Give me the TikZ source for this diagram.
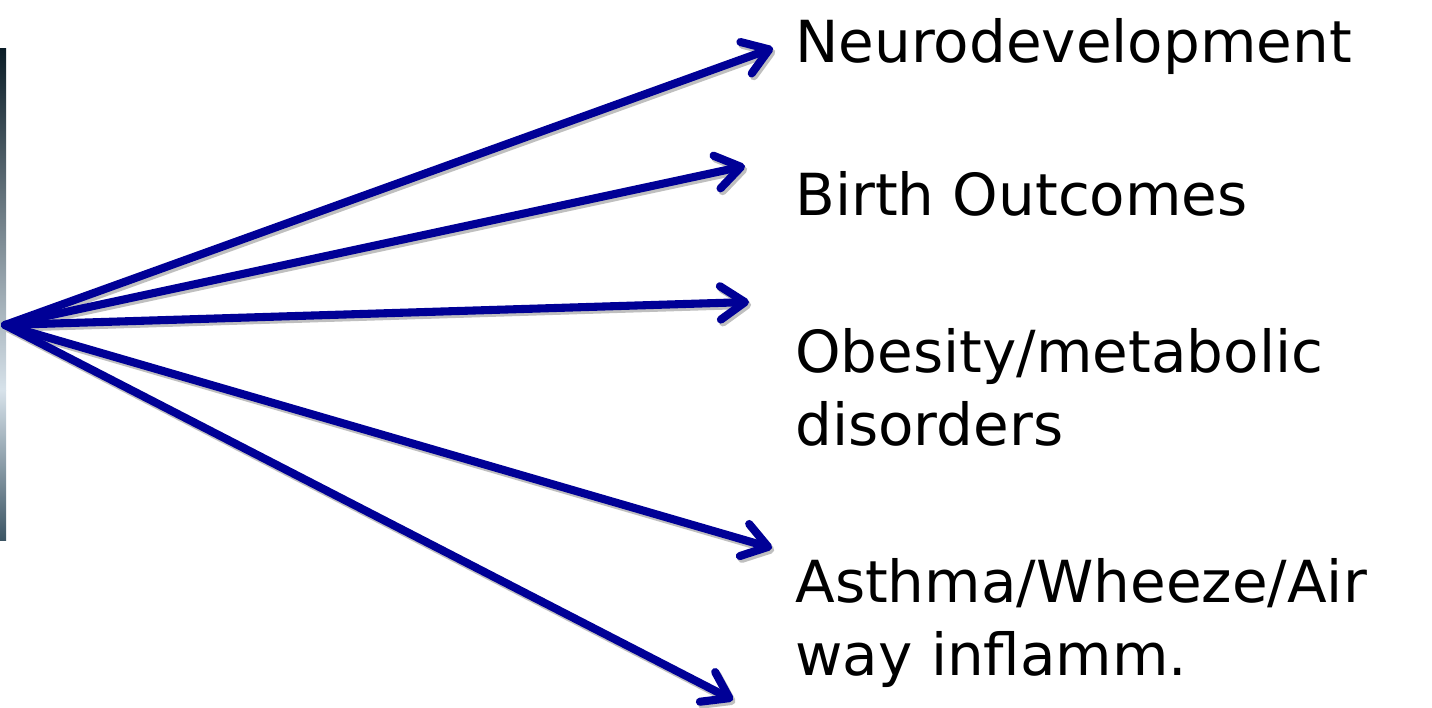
\documentclass[tikz,border=0pt]{standalone}
\usepackage{fontspec}
\setmainfont{DejaVu Sans}
\usetikzlibrary{arrows.meta}
\definecolor{arrowblue}{RGB}{0,0,150}
\definecolor{bardark}{RGB}{10,28,38}
\definecolor{barlight}{RGB}{215,226,234}
\definecolor{barmid}{RGB}{60,85,100}
\tikzset{%
  outarrow/.style = {draw=arrowblue, line width=4.6pt, line cap=round,
        -{Straight Barb[length=14pt,width=19pt,line cap=round,line join=round]},
        preaction={draw=black!25, line width=4.6pt,
          transform canvas={shift={(1.2pt,-1.6pt)}}}},
  outcome/.style = {anchor=base west, inner sep=0pt, align=left,
        font=\fontsize{33}{41.5}\selectfont}
}
\begin{document}
\begin{tikzpicture}[x=0.02cm,y=-0.02cm]
    \useasboundingbox (0,0) rectangle (1432,707);
    % image strip at the left edge
    \shade[top color=bardark, bottom color=barlight] (0,48) rectangle (6,390);
    \shade[top color=barlight, bottom color=barmid] (0,390) rectangle (6,540);

    \coordinate (src) at (5,325);
    \coordinate (neuro) at (773,48);
    \coordinate (birth) at (745,166);
    \coordinate (obese) at (749,302);
    \coordinate (asthma) at (772,548);
    \coordinate (airway) at (733,700);

    % base of a two-line node is its last line
    \node[outcome] (neurotext) at (795,62) {Neurodevelopment};
    \node[outcome] (birthtext) at (795,215) {Birth Outcomes};
    \node[outcome] (obesetext) at (795,445) {Obesity/metabolic\\disorders};
    \node[outcome] (asthmatext) at (795,675) {Asthma/Wheeze/Air\\way inflamm.};

    \foreach \t in {neuro,birth,obese,asthma,airway}
        \draw[outarrow] (src) -- (\t);
\end{tikzpicture}
\end{document}
